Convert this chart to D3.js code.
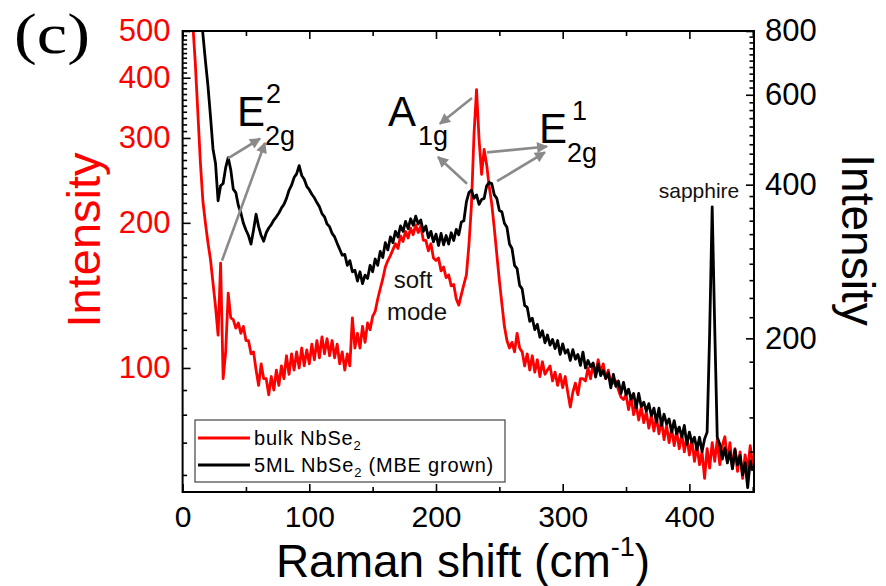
<!DOCTYPE html>
<html><head><meta charset="utf-8">
<script src="https://cdn.jsdelivr.net/npm/d3@7"></script>
<style>body{margin:0;background:#fff} svg{display:block}</style>
</head><body>
<svg id="chart" width="886" height="586"></svg>
<script>
// ---------------- data ----------------
const shiftStart = 8, shiftStep = 2;   // Raman shift grid (cm-1)
const bulkIntensity = [
 520,430,340,268,222,200,182,168,150,134,
 117,165,95,108,143,127,126,121,124,118,
 122,114,114,107,108,99,92,102,95,95,
 88,96,90,99,92,101,95,106,97,107,
 99,108,100,110,101,109,102,112,104,114,
 105,116,107,115,106,114,105,112,102,108,
 99,107,101,127,110,118,110,122,113,124,
 120,128,131,139,146,153,162,167,171,176,
 181,177,188,183,192,186,195,189,198,191,
 197,184,184,175,181,169,167,169,159,162,
 154,156,148,149,139,135,142,149,156,180,
 218,305,378,298,252,284,264,238,219,195,
 172,152,136,122,114,110,113,108,118,110,
 108,101,107,99,106,98,104,96,103,97,
 99,101,94,98,92,97,91,96,89,83,
 89,93,88,95,95,94,100,95,102,97,
 104,98,102,95,99,93,93,94,90,87,
 86,88,82,87,80,84,78,83,77,81,
 75,80,74,79,73,78,71,76,70,75,
 69,74,68,73,67,72,66,71,64,69,
 63,67,59,68,62,70,64,71,63,69,
 72,64,70,62,68,61,67,59,66,61,
 69,63
];
const mlIntensity = [
 1300,1150,1020,900,790,700,625,545,470,440,
 372,398,402,432,452,428,392,386,364,352,
 336,326,318,306,326,350,331,318,310,322,
 329,334,341,346,352,360,366,376,390,399,
 413,420,436,417,410,397,391,383,377,369,
 362,351,346,335,331,321,316,307,299,291,
 292,278,284,270,272,259,270,256,266,262,
 278,270,286,278,296,288,308,298,316,308,
 324,316,332,324,339,328,343,333,347,335,
 341,324,332,315,324,309,320,304,321,305,
 318,306,322,311,327,319,338,340,370,386,
 390,376,382,366,374,376,398,404,402,382,
 376,356,354,336,330,306,300,278,274,254,
 250,232,230,216,219,208,213,201,207,196,
 203,194,199,191,198,186,195,187,190,181,
 190,182,186,177,188,175,181,176,179,168,
 178,169,173,167,171,160,170,161,165,156,
 164,155,159,152,156,146,156,147,150,144,
 149,141,146,137,146,135,142,136,139,131,
 138,130,134,128,135,124,131,125,128,121,
 128,120,127,131,205,362,210,128,124,116,
 122,114,120,111,121,113,118,108,114,102,
 115,110
];
const ramanShift = bulkIntensity.map((_, i) => shiftStart + i * shiftStep);

const xTicks = [0, 100, 200, 300, 400];
const xMinorTicks = [50, 150, 250, 350, 450];
const leftTicks = [100, 200, 300, 400, 500];
const leftMinorTicks = [60,70,80,90,110,120,130,140,150,160,170,180,190,210,220,230,240,250,260,270,280,290,310,320,330,340,350,360,370,380,390,410,420,430,440,450,460,470,480,490];
const rightTicks = [200, 400, 600, 800];
const rightMinorTicks = [120,140,160,180,220,240,260,280,300,320,340,360,380,420,440,460,480,500,520,540,560,580,620,640,660,680,700,720,740,760,780];

const seriesNames = ["bulk NbSe", "5ML NbSe"];

// annotation arrows: [shift, bulk-axis intensity] -> [shift, bulk-axis intensity]
const peakArrows = [
  {from: [35.8, 272], to: [61.1, 299]},
  {from: [31.1, 167], to: [65.0, 293]},
  {from: [228.4, 363], to: [203.1, 321]},
  {from: [224.5, 241], to: [201.6, 274]},
  {from: [240.3, 280], to: [287.6, 288]},
  {from: [248.2, 244], to: [286.0, 280]}
];

// ---------------- layout ----------------
const svg = d3.select("#chart");
const L = 182.6, R = 754, T = 31, B = 492;
const FONT = "'Liberation Sans', Arial, sans-serif";

const x = d3.scaleLinear().domain([0, 451]).range([L, R]);
const yL = d3.scaleLog().domain([55.3, 500]).range([B, T]);
const yR = d3.scaleLog().domain([100, 800]).range([B, T]);

svg.append("rect").attr("width", 886).attr("height", 586).attr("fill", "#fff");

svg.append("defs").append("clipPath").attr("id", "plotclip")
  .append("rect").attr("x", L).attr("y", T).attr("width", R - L).attr("height", B - T);

const marker = svg.select("defs").append("marker")
  .attr("id", "ah").attr("viewBox", "0 0 10 10").attr("refX", 9).attr("refY", 5)
  .attr("markerWidth", 14).attr("markerHeight", 11).attr("markerUnits", "userSpaceOnUse")
  .attr("orient", "auto");
marker.append("path").attr("d", "M0,0 L10,5 L0,10 Z").attr("fill", "#8a8a8a");

// data lines
const plot = svg.append("g").attr("clip-path", "url(#plotclip)");
const lineBulk = d3.line().x((d, i) => x(ramanShift[i])).y(d => yL(d));
const lineML = d3.line().x((d, i) => x(ramanShift[i])).y(d => yR(d));
plot.append("path").datum(bulkIntensity).attr("d", lineBulk)
  .attr("fill", "none").attr("stroke", "#ff0000").attr("stroke-width", 2.8).attr("stroke-linejoin", "round");
plot.append("path").datum(mlIntensity).attr("d", lineML)
  .attr("fill", "none").attr("stroke", "#000").attr("stroke-width", 2.8).attr("stroke-linejoin", "round");

// axes
function styleAxis(g) {
  g.select(".domain").remove();
  g.selectAll(".tick line").attr("stroke", "#000").attr("stroke-width", 1.6);
}
svg.append("g").attr("transform", `translate(0,${B})`)
  .call(d3.axisBottom(x).tickValues(xTicks).tickSize(-8).tickPadding(14).tickFormat(d3.format("d")))
  .call(styleAxis)
  .call(g => g.selectAll("text").attr("font-family", FONT).attr("font-size", 30).attr("fill", "#000"));
svg.append("g").attr("transform", `translate(0,${B})`)
  .call(d3.axisBottom(x).tickValues(xMinorTicks).tickSize(-5).tickFormat(""))
  .call(styleAxis);
svg.append("g").attr("transform", `translate(0,${T})`)
  .call(d3.axisTop(x).tickValues(xTicks).tickSize(-8).tickFormat(""))
  .call(styleAxis);
svg.append("g").attr("transform", `translate(0,${T})`)
  .call(d3.axisTop(x).tickValues(xMinorTicks).tickSize(-5).tickFormat(""))
  .call(styleAxis);

svg.append("g").attr("transform", `translate(${L},0)`)
  .call(d3.axisLeft(yL).tickValues(leftTicks).tickSize(-8).tickPadding(12).tickFormat(d3.format("d")))
  .call(styleAxis)
  .call(g => g.selectAll("text").attr("font-family", FONT).attr("font-size", 31).attr("fill", "#ff0000"));
svg.append("g").attr("transform", `translate(${L},0)`)
  .call(d3.axisLeft(yL).tickValues(leftMinorTicks).tickSize(-4.5).tickFormat(""))
  .call(styleAxis);

svg.append("g").attr("transform", `translate(${R},0)`)
  .call(d3.axisRight(yR).tickValues(rightTicks).tickSize(-8).tickPadding(11).tickFormat(d3.format("d")))
  .call(styleAxis)
  .call(g => g.selectAll("text").attr("font-family", FONT).attr("font-size", 31).attr("fill", "#000"));
svg.append("g").attr("transform", `translate(${R},0)`)
  .call(d3.axisRight(yR).tickValues(rightMinorTicks).tickSize(-4.5).tickFormat(""))
  .call(styleAxis);

// frame
svg.append("rect").attr("x", L).attr("y", T).attr("width", R - L).attr("height", B - T)
  .attr("fill", "none").attr("stroke", "#000").attr("stroke-width", 2);

// axis titles
const xt = svg.append("text").attr("x", 463).attr("y", 577).attr("text-anchor", "middle")
  .attr("font-family", FONT).attr("font-size", 46).attr("fill", "#000");
xt.append("tspan").text("Raman shift (cm");
xt.append("tspan").attr("font-size", 27).attr("dy", -21).text("-1");
xt.append("tspan").attr("dy", 21).text(")");

svg.append("text").attr("transform", "translate(100,240) rotate(-90)").attr("text-anchor", "middle")
  .attr("font-family", FONT).attr("font-size", 47).attr("fill", "#ff0000").text("Intensity");
svg.append("text").attr("transform", "translate(842,240) rotate(90)").attr("text-anchor", "middle")
  .attr("font-family", FONT).attr("font-size", 46).attr("fill", "#000").text("Intensity");

// panel label
svg.append("text").attr("x", 14).attr("y", 53).attr("font-family", "'Liberation Serif', 'Times New Roman', serif")
  .attr("font-size", 57).attr("textLength", 76).attr("lengthAdjust", "spacingAndGlyphs")
  .attr("fill", "#000").text("(c)");

// arrows
svg.append("g").selectAll("line").data(peakArrows).join("line")
  .attr("x1", d => x(d.from[0])).attr("y1", d => yL(d.from[1]))
  .attr("x2", d => x(d.to[0])).attr("y2", d => yL(d.to[1]))
  .attr("stroke", "#8a8a8a").attr("stroke-width", 2.6).attr("marker-end", "url(#ah)");

// peak labels
function peakLabel(shift, inten, main, sup, sub, supDx, subDx) {
  const g = svg.append("g").attr("transform", `translate(${x(shift)},${yL(inten)})`)
    .attr("font-family", FONT).attr("fill", "#000");
  g.append("text").attr("font-size", 42).text(main);
  if (sup) g.append("text").attr("x", supDx).attr("y", -23).attr("font-size", 27).text(sup);
  g.append("text").attr("x", subDx).attr("y", 19).attr("font-size", 27).text(sub);
}
peakLabel(42.9, 318, "E", "2", "2g", 29, 28);
peakLabel(162.1, 318, "A", null, "1g", 0, 30);
peakLabel(281.3, 293, "E", "1", "2g", 33, 28);

function noteText(shift, inten, txt, size) {
  svg.append("text").attr("x", x(shift)).attr("y", yL(inten)).attr("text-anchor", "middle")
    .attr("font-family", FONT).attr("font-size", size).attr("fill", "#111").text(txt);
}
noteText(407.6, 225.6, "sapphire", 21);
noteText(181.9, 146.2, "soft", 24);
noteText(185.0, 125.5, "mode", 24);

// legend
const lg = svg.append("g");
lg.append("rect").attr("x", 195).attr("y", 420).attr("width", 310).attr("height", 62)
  .attr("fill", "#fff").attr("stroke", "#444").attr("stroke-width", 1.2);
const legendColors = ["#ff0000", "#000"];
const legendSuffix = ["", " (MBE grown)"];
seriesNames.forEach((name, i) => {
  const yy = 438 + i * 27;
  lg.append("line").attr("x1", 198).attr("x2", 250).attr("y1", yy).attr("y2", yy)
    .attr("stroke", legendColors[i]).attr("stroke-width", 3);
  const t = lg.append("text").attr("x", 254).attr("y", yy + 7).attr("font-family", FONT)
    .attr("font-size", 20).attr("letter-spacing", 0.8).attr("fill", "#000");
  t.append("tspan").text(name);
  t.append("tspan").attr("font-size", 13).attr("dy", 5).text("2");
  t.append("tspan").attr("dy", -5).text(legendSuffix[i]);
});
</script>
</body></html>
